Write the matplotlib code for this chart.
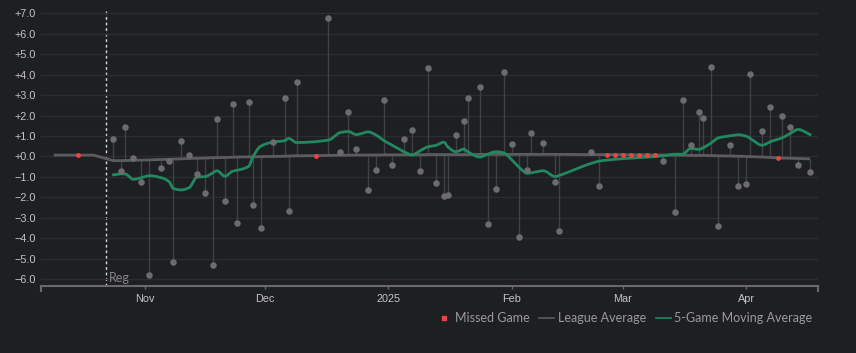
import matplotlib
matplotlib.use("Agg")
import matplotlib.pyplot as plt
import matplotlib.dates as mdates
from matplotlib.lines import Line2D
import numpy as np
import pandas as pd

# ---------------- data ----------------
season_start = "2024-10-22"

preseason_dates = ["2024-10-09", "2024-10-15", "2024-10-19"]
preseason_league = [0.065, 0.065, 0.065]
preseason_missed = ["2024-10-15"]

game_dates = [
    "2024-10-24", "2024-10-26", "2024-10-27", "2024-10-29", "2024-10-31",
    "2024-11-02", "2024-11-05", "2024-11-07", "2024-11-08", "2024-11-10",
    "2024-11-12", "2024-11-14", "2024-11-16", "2024-11-18", "2024-11-19",
    "2024-11-21", "2024-11-23", "2024-11-24", "2024-11-27", "2024-11-28",
    "2024-11-30", "2024-12-03", "2024-12-06", "2024-12-07", "2024-12-09",
    "2024-12-17", "2024-12-20", "2024-12-22", "2024-12-24", "2024-12-27",
    "2024-12-29", "2024-12-31", "2025-01-02", "2025-01-05", "2025-01-07",
    "2025-01-09", "2025-01-11", "2025-01-13", "2025-01-15", "2025-01-16",
    "2025-01-18", "2025-01-20", "2025-01-21", "2025-01-24", "2025-01-26",
    "2025-01-28", "2025-01-30", "2025-02-01", "2025-02-03", "2025-02-05",
    "2025-02-06", "2025-02-09", "2025-02-12", "2025-02-13", "2025-02-21",
    "2025-02-23", "2025-03-11", "2025-03-14", "2025-03-16", "2025-03-18",
    "2025-03-20", "2025-03-21", "2025-03-23", "2025-03-25", "2025-03-28",
    "2025-03-30", "2025-04-01", "2025-04-02", "2025-04-05", "2025-04-07",
    "2025-04-10", "2025-04-12", "2025-04-14", "2025-04-17",
]
game_values = [
    0.86, -0.73, 1.42, -0.07, -1.25,
    -5.80, -0.57, -0.21, -5.18, 0.77,
    0.07, -0.86, -1.78, -5.29, 1.81,
    -2.18, 2.56, -3.26, 2.64, -2.39,
    -3.49, 0.70, 2.88, -2.67, 3.63,
    6.76, 0.20, 2.17, 0.34, -1.66,
    -0.67, 2.78, -0.41, 0.86, 1.29,
    -0.73, 4.33, -1.32, -1.94, -1.87,
    1.06, 1.74, 2.88, 3.40, -3.32,
    -1.61, 4.14, 0.59, -3.93, -0.67,
    1.14, 0.65, -1.27, -3.65, 0.20,
    -1.43, -0.21, -2.72, 2.78, 0.54,
    2.17, 1.86, 4.36, -3.40, 0.54,
    -1.43, -1.37, 4.02, 1.24, 2.43,
    2.00, 1.42, -0.44, -0.77,
]
game_league = [
    -0.21, -0.20, -0.20, -0.19, -0.18,
    -0.17, -0.15, -0.14, -0.13, -0.12,
    -0.10, -0.09, -0.08, -0.06, -0.06,
    -0.05, -0.04, -0.03, -0.02, -0.02,
    -0.01, 0.00, 0.01, 0.02, 0.03,
    0.05, 0.06, 0.06, 0.07, 0.07,
    0.07, 0.08, 0.08, 0.08, 0.08,
    0.08, 0.09, 0.09, 0.09, 0.09,
    0.09, 0.09, 0.09, 0.10, 0.10,
    0.10, 0.10, 0.10, 0.10, 0.10,
    0.10, 0.10, 0.10, 0.10, 0.09,
    0.09, 0.07, 0.06, 0.06, 0.05,
    0.05, 0.05, 0.04, 0.03, 0.02,
    0.01, 0.00, -0.01, -0.03, -0.05,
    -0.08, -0.09, -0.10, -0.12,
]
moving_avg = [
    -0.90, -0.85, -0.86, -1.12, -1.04,
    -0.94, -1.04, -1.24, -1.56, -1.64,
    -1.53, -1.01, -0.99, -0.80, -0.70,
    -0.97, -0.72, -0.68, -0.48, -0.03,
    0.50, 0.70, 0.77, 0.88, 0.68,
    0.80, 1.17, 1.22, 1.07, 1.20,
    1.04, 0.77, 0.55, 0.23, 0.07,
    0.28, 0.47, 0.54, 0.70, 0.47,
    0.23, 0.36, 0.23, -0.03, 0.11,
    0.23, 0.18, -0.15, -0.55, -0.83,
    -0.80, -0.70, -0.99, -0.93, -0.34,
    -0.23, 0.03, 0.11, 0.11, 0.39,
    0.34, 0.41, 0.64, 0.91, 1.01,
    1.06, 0.99, 0.88, 0.55, 0.72,
    0.91, 1.12, 1.32, 1.07,
]
missed_dates = [
    "2024-12-14", "2025-02-25", "2025-02-27", "2025-03-01", "2025-03-03",
    "2025-03-05", "2025-03-07", "2025-03-09", "2025-04-09",
]
missed_league = [0.04, 0.09, 0.09, 0.09, 0.08, 0.08, 0.08, 0.07, -0.07]

month_ticks = ["2024-11-01", "2024-12-01", "2025-01-01", "2025-02-01",
               "2025-03-01", "2025-04-01"]
month_labels = ["Nov", "Dec", "2025", "Feb", "Mar", "Apr"]
y_ticks = list(range(-6, 8))

# ---------------- styling ----------------
BG = "#1e1f22"
GRID = "#2c2d31"
POINT = "#6c6c6f"
STEM = "#404145"
LEAGUE = "#5c5c5f"
GREEN = "#21885f"
RED = "#ec4444"
TICK = "#c4c4c4"


def monotone_curve(x, y, n=12):
    """Monotone cubic (Fritsch-Carlson) rendering of a polyline."""
    x = np.asarray(x, float)
    y = np.asarray(y, float)
    h = np.diff(x)
    d = np.diff(y) / h
    m = np.zeros_like(y)
    m[0], m[-1] = d[0], d[-1]
    for i in range(1, len(y) - 1):
        if d[i - 1] * d[i] <= 0:
            m[i] = 0.0
        else:
            w1 = 2 * h[i] + h[i - 1]
            w2 = h[i] + 2 * h[i - 1]
            m[i] = (w1 + w2) / (w1 / d[i - 1] + w2 / d[i])
    xs, ys = [], []
    for i in range(len(h)):
        t = np.linspace(0, 1, n, endpoint=(i == len(h) - 1))
        h00 = 2 * t**3 - 3 * t**2 + 1
        h10 = t**3 - 2 * t**2 + t
        h01 = -2 * t**3 + 3 * t**2
        h11 = t**3 - t**2
        xs.append(x[i] + t * h[i])
        ys.append(h00 * y[i] + h10 * h[i] * m[i] + h01 * y[i + 1] + h11 * h[i] * m[i + 1])
    return np.concatenate(xs), np.concatenate(ys)


fig = plt.figure(figsize=(8.56, 3.53), dpi=100, facecolor=BG)
ax = fig.add_axes([41 / 856, 1 - 286 / 353, (818 - 41) / 856, (286 - 9.3) / 353])
ax.set_facecolor(BG)

gd = pd.to_datetime(game_dates)
md = pd.to_datetime(missed_dates)
pd_ = pd.to_datetime(preseason_dates)

# league average line across all games (preseason + season incl. missed)
all_d = list(pd_) + list(gd) + list(md)
all_l = list(preseason_league) + list(game_league) + list(missed_league)
order = np.argsort(np.array(all_d, dtype="datetime64[ns]"))
all_d = [all_d[i] for i in order]
all_l = [all_l[i] for i in order]

ax.vlines(gd, game_league, game_values, color=STEM, lw=1.0, zorder=2)
ax.plot(all_d, all_l, color=LEAGUE, lw=2.0, zorder=3, solid_capstyle="butt")
gx, gy = monotone_curve(mdates.date2num(gd), moving_avg)
ax.plot(gx, gy, color=GREEN, lw=2.0, zorder=4, solid_joinstyle="round")
ax.scatter(gd, game_values, s=22, color=POINT, zorder=5, linewidths=0)
ax.scatter(list(md) + list(pd.to_datetime(preseason_missed)),
           missed_league + [preseason_league[1]],
           s=12, color=RED, zorder=6, linewidths=0)

# season start marker
ss = pd.Timestamp(season_start)
ax.axvline(ss, color="#d8d8d8", lw=1.0, ls=(0, (2, 2)), zorder=1)
ax.text(ss + pd.Timedelta(hours=20), -6.15, "Reg", color="#858585",
        fontsize=9, family="Lato", va="baseline", ha="left")

ax.set_xlim(pd.Timestamp("2024-10-05 19:00"), pd.Timestamp("2025-04-19 00:00"))
ax.set_ylim(-6.34, 7.2)

ax.set_yticks(y_ticks)
ax.set_yticklabels([("+" if v >= 0 else "\u2212") + f"{abs(v):.1f}" for v in y_ticks])
ax.set_xticks(pd.to_datetime(month_ticks))
ax.set_xticklabels(month_labels)

ax.grid(axis="y", color=GRID, lw=1.0, zorder=0)
ax.grid(axis="x", visible=False)
for s in ["top", "right", "left"]:
    ax.spines[s].set_visible(False)
ax.spines["bottom"].set_color("#6a6a6c")
ax.spines["bottom"].set_linewidth(1.5)

ax.tick_params(axis="y", length=0, pad=3.5, labelsize=7.8, labelcolor=TICK)
ax.tick_params(axis="x", length=2, width=1, color="#6a6a6c", pad=4,
               labelsize=7.8, labelcolor=TICK)
for lab in ax.get_xticklabels() + ax.get_yticklabels():
    lab.set_family("Liberation Sans")

# end caps of the x axis
for xe in (0, 1):
    ax.plot([xe, xe], [0, -0.018], transform=ax.transAxes, color="#6a6a6c",
            lw=1.5, clip_on=False)

handles = [
    Line2D([], [], marker="s", color=RED, ls="none", markersize=3),
    Line2D([], [], color=LEAGUE, lw=1.2),
    Line2D([], [], color=GREEN, lw=1.2),
]
leg = fig.legend(handles, ["Missed Game", "League Average", "5-Game Moving Average"],
                 loc="center right", bbox_to_anchor=(812 / 856, 1 - 318 / 353),
                 ncol=3, frameon=False, handlelength=1.2, handletextpad=0.25,
                 columnspacing=0.8, borderaxespad=0, borderpad=0,
                 prop={"family": "Lato", "size": 9.0})
for t in leg.get_texts():
    t.set_color("#9a9a9a")
# tighten the square marker handle next to its text
leg.legend_handles[0].set_markersize(3)

fig.savefig("out.png", dpi=100, facecolor=BG)
